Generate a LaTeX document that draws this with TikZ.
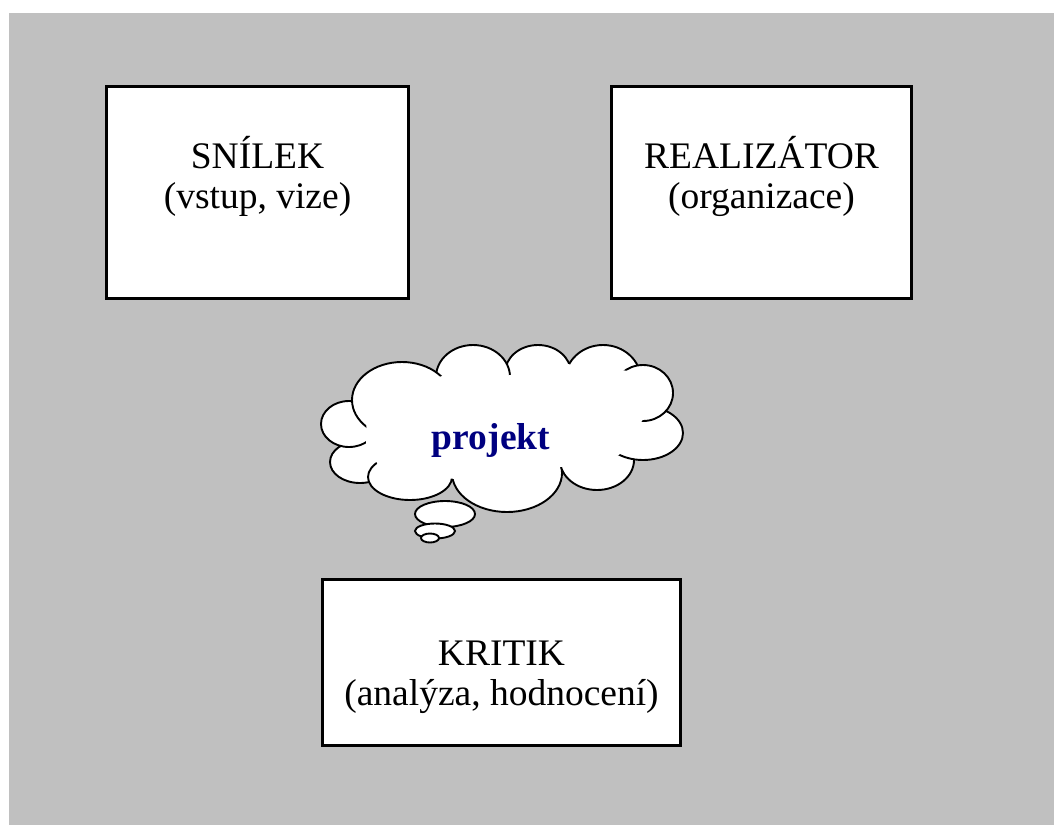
\documentclass[tikz,border=0pt]{standalone}
\usepackage{fontspec}
\setmainfont{Liberation Serif}
\usetikzlibrary{positioning}
\definecolor{pozadi}{RGB}{192,192,192}
\definecolor{tmavemodra}{RGB}{0,0,128}
\tikzset{
    role/.style={draw=black, line width=2.6pt, fill=white, inner sep=0pt},
    popis/.style={align=center, inner sep=0pt, font=\fontsize{37.5}{40}\selectfont},
    obl/.style={draw=black, line width=1.9pt, fill=white}
}

\begin{document}
\begin{tikzpicture}[x=1pt, y=-1pt]
  % pozadi
  \fill[white] (0,0) rectangle (1054,825);
  \fill[pozadi] (9,13) rectangle (1054,825);
  \useasboundingbox (0,0) rectangle (1054,825);

  % role
  \node[role, minimum width=302pt, minimum height=212pt] (snilek) at (257.5,192.5) {};
  \node[role, minimum width=300pt, minimum height=212pt] (realizator) at (761.5,192.5) {};
  \node[role, minimum width=358pt, minimum height=166pt] (kritik) at (501.5,662.5) {};

  \node[popis] (snilek-t) at (257.5,176) {SNÍLEK\\(vstup, vize)};
  \node[popis] (realizator-t) at (761.5,176) {REALIZÁTOR\\(organizace)};
  \node[popis] (kritik-t) at (501.5,677) {KRITIK\\(analýza, hodnocení)};

  % oblak
  \foreach \cx/\cy/\rx/\ry in {603/380/38/35, 538/373/33/28, 473/377/37/32,
      360/462/30/21, 349/424/28/23, 402/400/50/38, 410/477/42/23,
      507/473/55/39, 597/460/37/30, 643/433/40/27, 643/393/30/28}
    \draw[obl] (\cx,\cy) ellipse [x radius=\rx pt, y radius=\ry pt];
  \fill[white] (367,404) -- (450,373) -- (506,376) -- (558,363) -- (629,371)
    -- (646,415) -- (619,455) -- (551,469) -- (463,479) -- (385,477)
    -- (366,444) -- cycle;
  \fill[white] (500,428) ellipse [x radius=125pt, y radius=40pt];

  % bublinky
  \draw[obl] (445,514) ellipse [x radius=30pt, y radius=13pt];
  \draw[obl] (435,531) ellipse [x radius=20pt, y radius=7.5pt];
  \draw[obl] (430,538) ellipse [x radius=9pt, y radius=4.5pt];

  \node[popis, text=tmavemodra] (projekt) at (491,440) {\textbf{projekt}};
\end{tikzpicture}
\end{document}
